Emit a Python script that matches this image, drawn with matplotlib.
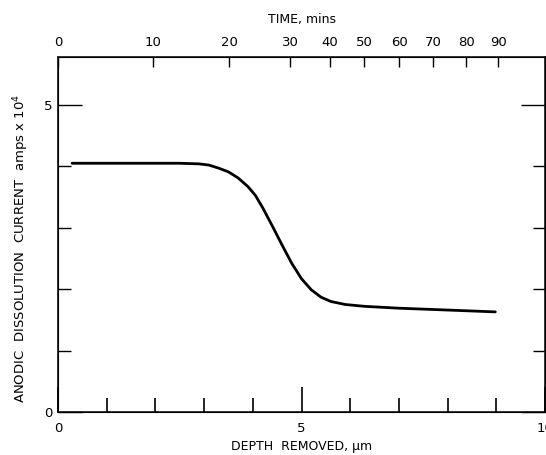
import numpy as np
import matplotlib
matplotlib.use('Agg')
import matplotlib.pyplot as plt

# curve: depth removed (um) vs anodic current (amps x 10^4)
depth = [0.29, 1.0, 2.0, 2.48, 2.9, 3.1, 3.3, 3.5, 3.7, 3.9, 4.05, 4.2, 4.4, 4.6,
         4.8, 5.0, 5.2, 5.4, 5.6, 5.9, 6.3, 7.0, 8.0, 8.98]
current = [4.05, 4.05, 4.05, 4.05, 4.04, 4.02, 3.97, 3.91, 3.81, 3.67, 3.53, 3.33,
           3.03, 2.72, 2.42, 2.17, 1.99, 1.87, 1.80, 1.75, 1.72, 1.69, 1.66, 1.63]

# top time scale (non-linear in depth)
time_labels = ['0', '10', '20', '30', '40', '50', '60', '70', '80', '90']
time_pos = [0.0, 1.95, 3.52, 4.77, 5.59, 6.29, 7.01, 7.70, 8.38, 9.04]

depth_labels = ['0', '5', '10']
depth_major = [0, 5, 10]
depth_minor = [1, 2, 3, 4, 6, 7, 8, 9]
cur_labels = ['0', '5']
cur_major = [0, 5]
cur_minor = [1, 2, 3, 4]

fig = plt.figure(figsize=(5.46, 4.55), dpi=100)
ax = fig.add_axes([58/546, 43/455, 487/546, 355/455])

ax.plot(depth, current, color='black', lw=2.0, solid_capstyle='round',
        solid_joinstyle='round')
ax.set_xlim(0, 10)
ax.set_ylim(0, 5.78)

ax.set_xticks(depth_major)
ax.set_xticklabels(depth_labels)
ax.set_xticks(depth_minor, minor=True)
ax.set_yticks(cur_major)
ax.set_yticklabels(cur_labels)
ax.set_yticks(cur_minor, minor=True)

ax.tick_params(axis='x', which='major', direction='in', length=18, width=1.2, pad=7, labelsize=9.5)
ax.tick_params(axis='x', which='minor', direction='in', length=10, width=1.2)
ax.tick_params(axis='y', which='major', direction='in', length=17, width=1.0, pad=4,
               labelsize=9.5, right=True)
ax.tick_params(axis='y', which='minor', direction='in', length=9, width=1.0, right=True)
ax.tick_params(axis='x', which='both', top=False)

for s in ax.spines.values():
    s.set_linewidth(1.1)

top = ax.twiny()
top.set_xlim(0, 10)
top.set_xticks(time_pos)
top.set_xticklabels(time_labels)
top.tick_params(axis='x', direction='in', length=7, width=1.0, pad=6, labelsize=9.5)
top.set_xlabel('TIME, mins', fontsize=9, labelpad=9)

ax.set_xlabel('DEPTH  REMOVED, \u03bcm', fontsize=9, labelpad=4)
ax.set_ylabel(r'ANODIC  DISSOLUTION  CURRENT  amps x 10$^4$', fontsize=9.5)
ax.yaxis.set_label_coords(-0.055, 0.46)

fig.savefig('out.png', dpi=100)
